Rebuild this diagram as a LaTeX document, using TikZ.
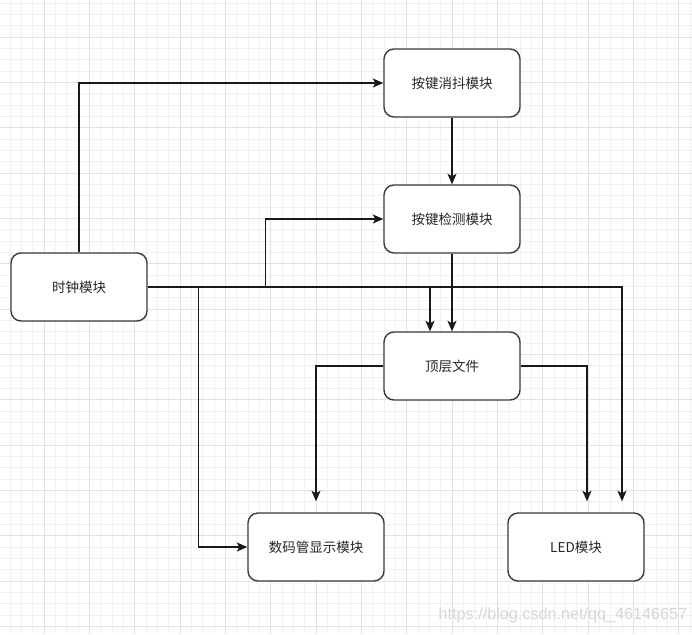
\documentclass[tikz,border=0pt]{standalone}
\usepackage{fontspec}
\newfontfamily\cjk{Noto Sans CJK SC}
\newfontfamily\wmfont{Liberation Sans}
\usetikzlibrary{arrows.meta,positioning}
\definecolor{gridminor}{HTML}{F1F1F1}
\definecolor{gridmajor}{HTML}{E2E2E2}
\definecolor{boxline}{HTML}{3A3A3A}
\definecolor{wmgray}{HTML}{D6D6D6}

\begin{document}
\begin{tikzpicture}[%
    x=1pt, y=-1pt,
    >={Stealth[length=10.5pt,width=9pt,inset=2.5pt]},
    node distance=136pt,
    on grid,
    module/.style={draw=boxline, line width=1.4pt, fill=white,
      rounded corners=10pt, minimum width=136pt, minimum height=68pt,
      font=\cjk\fontsize{13.5}{16}\selectfont, text=black!85},
    wire/.style={line width=1.2pt, black!90},
    thick
  ]
    \useasboundingbox (0,0) rectangle (692,634);
    \fill[white] (0,0) rectangle (692,634);
    % grid
    \foreach \gx in {-1.333,10,...,692}
      \draw[gridminor, line width=0.8pt] (\gx,0) -- (\gx,634);
    \foreach \gy in {3,14.333,...,634}
      \draw[gridminor, line width=0.8pt] (0,\gy) -- (692,\gy);
    \foreach \gx in {-1.333,44,...,692}
      \draw[gridmajor, line width=0.8pt] (\gx,0) -- (\gx,634);
    \foreach \gy in {-8.333,37,...,634}
      \draw[gridmajor, line width=0.8pt] (0,\gy) -- (692,\gy);

    \node[module] (clk) at (79,287) {时钟模块};
    \node[module] (deb) at (452,83) {按键消抖模块};
    \node[module] (det) [below=of deb] {按键检测模块};
    \node[module] (top) [below=147pt of det] {顶层文件};
    \node[module] (seg) at (316,547) {数码管显示模块};
    \node[module] (led) [right=260pt of seg] {LED模块};

    \draw[wire,->] (clk.north) |- (deb.west);
    \draw[wire,->] (deb) -- (det);
    \draw[wire,->] (det) -- (top);
    \draw[wire,->] (clk.east) -- ++(118,0) |- (det.west);
    \draw[wire,->] (clk.east) -- ++(51,0) |- (seg.west);
    \draw[wire,->] (clk.east) -| ([xshift=-22pt]top.north);
    \draw[wire,->,shorten >=11pt] (clk.east) -| ([xshift=46pt]led.north);
    \draw[wire,->,shorten >=11pt] (top.west) -| (seg.north);
    \draw[wire,->,shorten >=11pt] (top.east) -| ([xshift=11pt]led.north);

    \node[anchor=base east, text=wmgray, font=\wmfont\fontsize{16.2}{19}\selectfont]
      (wm) at (691,619) {https://blog.csdn.net/qq\_46146657};
  \end{tikzpicture}
\end{document}
